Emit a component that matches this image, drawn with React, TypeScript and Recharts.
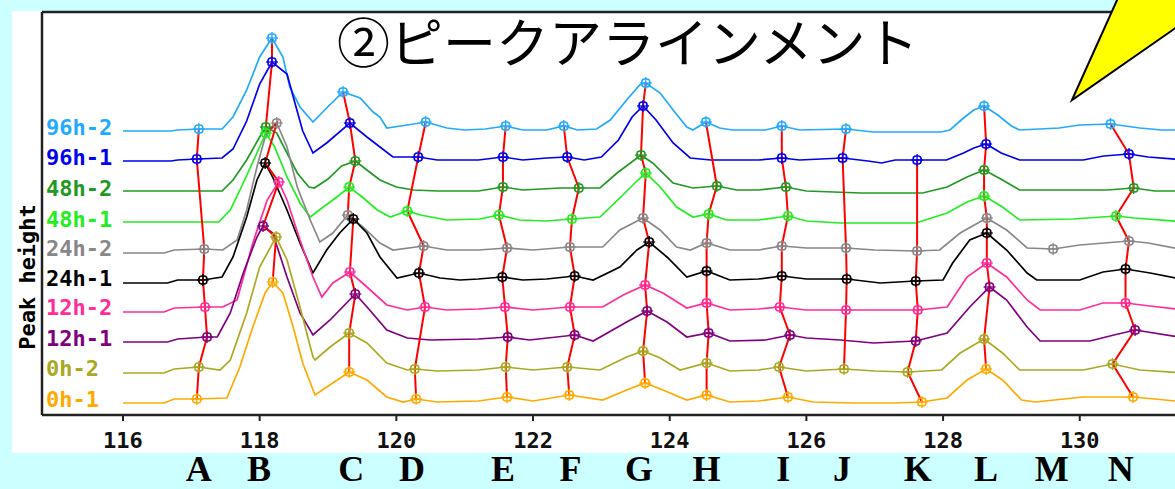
import { ComposedChart, Line, Scatter, XAxis, YAxis, ReferenceLine } from 'recharts';

const X_MIN = 114.815;
const X_MAX = 131.54;
const Y_MAX = 403;

const samples = ['96h-2', '96h-1', '48h-2', '48h-1', '24h-2', '24h-1', '12h-2', '12h-1', '0h-2', '0h-1'];
const sampleColors = ['#22aaff', '#0000ee', '#229922', '#22ee22', '#888888', '#000000', '#ff2d9a', '#800080', '#aaaa22', '#ffaa00'];
// vertical offset of each trace (same units as peak height)
const sampleOffsets = [285, 255, 224, 193, 164, 134, 105, 74, 44, 13];

// [retention, peak height]
const trace96h2 = [
  [116.0, -1], [116.7, -1], [116.8, 0], [117.11, 1], [117.45, 1], [117.61, 13], [117.81, 40], [118.0, 73], [118.18, 92],
  [118.34, 73], [118.44, 43], [118.59, 23], [118.78, 8], [118.98, 22], [119.22, 38], [119.47, 32], [119.66, 18], [119.76, 13],
  [119.86, 2], [120.16, 5], [120.43, 8], [120.74, 2], [121.0, 0], [121.3, 1], [121.6, 4], [121.85, 0], [122.2, 0], [122.45, 4],
  [122.65, 0], [122.93, 1], [123.13, 10], [123.37, 30], [123.56, 45], [123.65, 47], [123.86, 37], [124.05, 20], [124.25, 3],
  [124.34, 0], [124.53, 8], [124.73, 2], [124.92, 0], [125.4, 0], [125.64, 4], [125.9, 0], [126.58, 1], [126.98, -2], [127.97, -2],
  [128.1, 0], [128.3, 12], [128.45, 20], [128.6, 24], [128.8, 15], [129.0, 4], [129.12, 0], [129.7, 2], [130.0, 5], [130.45, 6],
  [130.88, 2], [131.2, 0], [131.54, 0],
];
const trace96h1 = [
  [116.0, -1], [116.7, -1], [116.8, 0], [117.08, 1], [117.45, 2], [117.61, 11], [117.81, 39], [118.0, 76], [118.18, 98],
  [118.4, 86], [118.52, 56], [118.63, 29], [118.78, 7], [118.98, 17], [119.32, 37], [119.57, 23], [119.76, 13], [119.95, 3],
  [120.32, 3], [120.6, 0], [121.2, 0], [121.56, 3], [121.85, 0], [122.2, 2], [122.5, 3], [122.75, 0], [123.0, 3], [123.25, 20],
  [123.45, 43], [123.61, 54], [123.8, 40], [124.05, 17], [124.3, 2], [124.6, 0], [125.3, 0], [125.64, 2], [125.9, 0], [126.53, 2],
  [126.9, -1], [127.1, -3], [127.3, 0], [127.62, 0], [128.05, 0], [128.3, 7], [128.45, 12], [128.63, 16], [128.85, 7], [129.12, 0],
  [130.05, 0], [130.35, 4], [130.72, 6], [131.0, 3], [131.54, 0],
];
const trace48h2 = [
  [116.0, 0], [117.45, 0], [117.61, 11], [117.81, 31], [118.0, 54], [118.09, 64], [118.25, 58], [118.4, 38], [118.55, 18],
  [118.72, 4], [118.8, 3], [119.0, 12], [119.2, 25], [119.4, 30], [119.55, 22], [119.76, 11], [120.0, 4], [120.25, 1], [120.6, 0],
  [121.2, 0], [121.56, 4], [121.85, 1], [122.4, 3], [122.67, 3], [122.98, 3], [123.23, 18], [123.58, 36], [123.75, 28], [124.05, 8],
  [124.34, 3], [124.69, 5], [124.98, 1], [125.3, 1], [125.7, 4], [126.0, 0], [126.8, -2], [127.7, -2], [128.06, 4], [128.35, 14],
  [128.6, 21], [128.87, 11], [129.12, 1], [130.4, 1], [130.79, 3], [131.1, 0], [131.54, 0],
];
const trace48h1 = [
  [116.0, 0], [117.4, 0], [117.57, 12], [117.76, 39], [117.96, 69], [118.09, 89], [118.22, 75], [118.4, 45], [118.59, 19],
  [118.74, 5], [118.93, 15], [119.13, 25], [119.31, 35], [119.5, 25], [119.72, 12], [119.91, 5], [120.16, 11], [120.35, 7],
  [120.74, 2], [121.22, 3], [121.5, 7], [121.8, 2], [122.2, 1], [122.57, 3], [122.98, 5], [123.27, 24], [123.52, 41], [123.65, 49],
  [123.86, 35], [124.1, 15], [124.34, 5], [124.57, 8], [124.83, 2], [125.3, 2], [125.73, 6], [126.0, 1], [126.5, -1], [127.6, -1],
  [128.06, 9], [128.35, 20], [128.6, 26], [128.87, 15], [129.12, 2], [129.9, 3], [130.53, 6], [130.8, 4], [131.54, 0],
];
const trace24h2 = [
  [116.0, -2], [116.6, -2], [116.75, 1], [117.19, 2], [117.46, 1], [117.67, 11], [117.81, 41], [117.96, 84], [118.08, 114],
  [118.25, 128], [118.4, 104], [118.55, 64], [118.74, 31], [118.88, 9], [119.07, 18], [119.29, 36], [119.51, 24], [119.76, 8],
  [119.95, 1], [120.4, 5], [120.74, 1], [121.2, 1], [121.62, 3], [122.0, 1], [122.54, 4], [123.02, 4], [123.27, 21], [123.61, 33],
  [123.86, 21], [124.1, 4], [124.3, 1], [124.54, 8], [124.88, 1], [125.3, 1], [125.64, 5], [126.0, 3], [126.58, 3], [127.0, 1],
  [127.62, 0], [127.95, 1], [128.25, 18], [128.64, 33], [128.93, 21], [129.23, 3], [129.61, 2], [130.0, 6], [130.72, 10],
  [131.0, 8], [131.54, 1],
];
const trace24h1 = [
  [116.0, -2], [116.65, -2], [116.8, 1], [117.17, 1], [117.45, 4], [117.61, 24], [117.81, 64], [117.96, 101], [118.08, 118],
  [118.19, 104], [118.4, 71], [118.59, 38], [118.78, 8], [118.98, 31], [119.17, 48], [119.37, 62], [119.57, 48], [119.76, 24],
  [120.01, 3], [120.33, 8], [120.64, 3], [120.93, 1], [121.2, 2], [121.55, 4], [121.85, 1], [122.2, 2], [122.61, 5], [122.88, 1],
  [123.27, 14], [123.52, 31], [123.7, 39], [123.96, 24], [124.25, 4], [124.54, 10], [124.88, 1], [125.3, 2], [125.64, 5], [126.0, 2],
  [126.59, 2], [127.08, -2], [127.6, 0], [128.0, 1], [128.14, 18], [128.39, 41], [128.64, 48], [128.93, 31], [129.23, 8],
  [129.37, 1], [130.0, 1], [130.34, 9], [130.67, 12], [131.03, 8], [131.54, 1],
];
const trace12h2 = [
  [116.0, -2], [116.6, -2], [116.75, 2], [117.2, 3], [117.46, 3], [117.67, 10], [117.9, 67], [118.11, 110], [118.28, 128],
  [118.4, 110], [118.59, 70], [118.78, 33], [118.91, 13], [119.07, 27], [119.32, 38], [119.57, 23], [119.86, 5], [120.16, 0],
  [120.42, 3], [120.74, 0], [121.2, 1], [121.59, 3], [122.0, 0], [122.54, 3], [123.02, 3], [123.32, 15], [123.64, 25], [123.9, 17],
  [124.25, 2], [124.54, 7], [124.88, 0], [125.3, 1], [125.61, 3], [126.0, 0], [126.58, 0], [127.63, 0], [128.06, 3], [128.35, 33],
  [128.64, 47], [128.93, 33], [129.23, 10], [129.42, 0], [130.0, 0], [130.34, 7], [130.67, 7], [131.03, 4], [131.54, 0],
];
const trace12h1 = [
  [116.0, -1], [116.65, -1], [116.8, 2], [117.23, 4], [117.38, 4], [117.57, 28], [117.76, 68], [117.96, 104], [118.05, 115],
  [118.19, 108], [118.4, 64], [118.59, 28], [118.78, 6], [119.03, 21], [119.4, 47], [119.61, 31], [119.86, 11], [120.16, 3],
  [120.5, 1], [121.2, 2], [121.63, 4], [121.95, 1], [122.61, 6], [122.88, 0], [123.37, 19], [123.67, 30], [123.96, 19], [124.25, 4],
  [124.57, 8], [124.88, 0], [125.4, 1], [125.76, 6], [126.0, 3], [126.5, 1], [126.98, -2], [127.6, 0], [128.06, 8], [128.39, 34],
  [128.68, 54], [128.93, 41], [129.23, 14], [129.42, 0], [130.15, 0], [130.5, 6], [130.81, 11], [131.54, 3],
];
const trace0h2 = [
  [116.0, -2], [116.6, -2], [116.75, 2], [117.11, 4], [117.42, 1], [117.57, 11], [117.81, 58], [118.0, 104], [118.24, 134],
  [118.4, 111], [118.59, 64], [118.78, 14], [118.81, 11], [119.03, 24], [119.31, 38], [119.57, 28], [119.86, 8], [120.16, 1],
  [120.27, 2], [120.6, 0], [121.2, 1], [121.6, 4], [122.0, 1], [122.5, 4], [122.98, 1], [123.37, 14], [123.61, 20], [123.86, 13],
  [124.15, 1], [124.54, 8], [124.88, 0], [125.3, 1], [125.6, 4], [126.0, 0], [126.55, 2], [127.0, 0], [127.48, -1], [127.98, 1],
  [128.25, 18], [128.6, 32], [128.87, 18], [129.12, 1], [130.05, 1], [130.48, 7], [130.88, 1], [131.54, -2],
];
const trace0h1 = [
  [116.0, -1], [116.6, -1], [116.75, 3], [117.08, 3], [117.52, 4], [117.71, 35], [117.9, 75], [118.08, 109], [118.19, 120],
  [118.34, 109], [118.49, 75], [118.63, 39], [118.81, 7], [119.07, 19], [119.31, 30], [119.57, 22], [119.86, 5], [120.1, 0],
  [120.29, 3], [120.6, 0], [121.2, 1], [121.62, 5], [122.0, 1], [122.53, 7], [123.02, 2], [123.37, 12], [123.64, 19], [123.9, 12],
  [124.25, 2], [124.54, 7], [124.88, 0], [125.3, 1], [125.73, 5], [126.1, 0], [126.68, -1], [127.3, -1], [127.69, 0], [128.06, 4],
  [128.35, 22], [128.63, 33], [128.87, 22], [129.15, 2], [129.35, 0], [130.05, 5], [130.78, 5], [131.1, 3], [131.54, 0],
];
const traces = [trace96h2, trace96h1, trace48h2, trace48h1, trace24h2, trace24h1, trace12h2, trace12h1, trace0h2, trace0h1];

// aligned peaks: one entry per sample (top to bottom), null = not detected
const peakA = [[117.11, 1], [117.08, 1], null, null, [117.19, 2], [117.17, 1], [117.2, 3], [117.23, 4], [117.11, 4], [117.08, 3]];
const peakB = [[118.18, 92], [118.18, 98], [118.09, 64], [118.09, 89], [118.25, 128], [118.08, 118], [118.28, 128], [118.05, 115], [118.24, 134], [118.19, 120]];
const peakC = [[119.22, 38], [119.32, 37], [119.4, 30], [119.31, 35], [119.29, 36], [119.37, 62], [119.32, 38], [119.4, 47], [119.31, 38], [119.31, 30]];
const peakD = [[120.43, 8], [120.32, 3], null, [120.16, 11], [120.4, 5], [120.33, 8], [120.42, 3], null, [120.27, 2], [120.29, 3]];
const peakE = [[121.6, 4], [121.56, 3], [121.56, 4], [121.5, 7], [121.62, 3], [121.55, 4], [121.59, 3], [121.63, 4], [121.6, 4], [121.62, 5]];
const peakF = [[122.45, 4], [122.5, 3], [122.67, 3], [122.57, 3], [122.54, 4], [122.61, 5], [122.54, 3], [122.61, 6], [122.5, 4], [122.53, 7]];
const peakG = [[123.65, 47], [123.61, 54], [123.58, 36], [123.65, 49], [123.61, 33], [123.7, 39], [123.64, 25], [123.67, 30], [123.61, 20], [123.64, 19]];
const peakH = [[124.53, 8], null, [124.69, 5], [124.57, 8], [124.54, 8], [124.54, 10], [124.54, 7], [124.57, 8], [124.54, 8], [124.54, 7]];
const peakI = [[125.64, 4], [125.64, 2], [125.7, 4], [125.73, 6], [125.64, 5], [125.64, 5], [125.61, 3], [125.76, 6], [125.6, 4], [125.73, 5]];
const peakJ = [[126.58, 1], [126.53, 2], null, null, [126.58, 3], [126.59, 2], [126.58, 0], null, [126.55, 2], null];
const peakK = [null, [127.62, 0], null, null, [127.62, 0], [127.6, 0], [127.63, 0], [127.6, 0], [127.48, -1], [127.69, 0]];
const peakL = [[128.6, 24], [128.63, 16], [128.6, 21], [128.6, 26], [128.64, 33], [128.64, 48], [128.64, 47], [128.68, 54], [128.6, 32], [128.63, 33]];
const peakM = [null, null, null, null, [129.61, 2], null, null, null, null, null];
const peakN = [[130.45, 6], [130.72, 6], [130.79, 3], [130.53, 6], [130.72, 10], [130.67, 12], [130.67, 7], [130.81, 11], [130.48, 7], [130.78, 5]];
const peakTable = [peakA, peakB, peakC, peakD, peakE, peakF, peakG, peakH, peakI, peakJ, peakK, peakL, peakM, peakN];

const peakLetters = ['A', 'B', 'C', 'D', 'E', 'F', 'G', 'H', 'I', 'J', 'K', 'L', 'M', 'N'];
const letterPositions = [117.11, 117.99, 119.34, 120.23, 121.56, 122.55, 123.55, 124.54, 125.66, 126.52, 127.63, 128.63, 129.59, 130.6];
const xTicks = [116, 118, 120, 122, 124, 126, 128, 130];

const title = '②ピークアラインメント';
const MONO = '"DejaVu Sans Mono", monospace';

const labelValues = sampleOffsets.map((o) => o + 3);

function SampleLabel(props: any) {
  const { y, payload } = props;
  const i = labelValues.indexOf(payload.value);
  if (i < 0) return null;
  return (
    <text x={46} y={y} dominantBaseline="central" fill={sampleColors[i]} fontFamily={MONO} fontWeight="bold" fontSize={22}>
      {samples[i]}
    </text>
  );
}

function LetterTick(props: any) {
  const { x, y, payload } = props;
  const i = letterPositions.indexOf(payload.value);
  return (
    <text x={x} y={y + 28} textAnchor="middle" fill="#000" fontFamily='"Liberation Serif", serif' fontWeight="bold" fontSize={36}>
      {peakLetters[i]}
    </text>
  );
}

function PeakMarker(props: any) {
  const { cx, cy, payload } = props;
  if (cx == null || cy == null) return null;
  const c = payload.color;
  return (
    <g>
      <rect x={cx - 4} y={cy - 4} width={8} height={8} rx={3} fill="none" stroke={c} strokeWidth={1.6} />
      <line x1={cx - 6} x2={cx + 6} y1={cy} y2={cy} stroke={c} strokeWidth={1.3} />
      <line x1={cx} x2={cx} y1={cy - 6} y2={cy + 6} stroke={c} strokeWidth={1.3} />
    </g>
  );
}

export default function App() {
  const traceData = traces.map((t, i) => t.map(([x, h]) => ({ x, y: sampleOffsets[i] + h })));
  const peakData = peakTable.map((col) =>
    col
      .map((pt, i) => (pt ? { x: pt[0], y: sampleOffsets[i] + pt[1], color: sampleColors[i] } : null))
      .filter((d) => d !== null)
  );

  return (
    <div style={{ position: 'fixed', left: 0, top: 0, width: 1175, height: 489, overflow: 'hidden', background: '#ccffff' }}>
      <div style={{ position: 'absolute', left: 12, top: 11, width: 1163, height: 442, background: '#ffffff' }} />
      <div style={{ position: 'absolute', left: 0, top: 0 }}>
        <ComposedChart width={1190} height={489} margin={{ top: 12, right: 5, bottom: 0, left: 0 }}>
          <XAxis
            type="number"
            dataKey="x"
            domain={[X_MIN, X_MAX]}
            allowDataOverflow
            ticks={xTicks}
            interval={0}
            height={38}
            tickSize={6}
            tickMargin={11}
            axisLine={{ stroke: '#222', strokeWidth: 2.5 }}
            tickLine={{ stroke: '#222', strokeWidth: 2 }}
            tick={{ fill: '#111', fontFamily: MONO, fontWeight: 'bold', fontSize: 22 }}
          />
          <XAxis
            xAxisId="letters"
            type="number"
            dataKey="x"
            domain={[X_MIN, X_MAX]}
            allowDataOverflow
            ticks={letterPositions}
            interval={0}
            height={36}
            tickSize={0}
            tickMargin={0}
            axisLine={false}
            tickLine={false}
            tick={<LetterTick />}
          />
          <YAxis
            type="number"
            dataKey="y"
            domain={[0, Y_MAX]}
            allowDataOverflow
            width={42}
            ticks={labelValues}
            interval={0}
            tickLine={false}
            axisLine={{ stroke: '#222', strokeWidth: 2.5 }}
            tick={<SampleLabel />}
          />
          <ReferenceLine y={Y_MAX} stroke="#222" strokeWidth={2.5} />
          {traceData.map((d, i) => (
            <Line
              key={samples[i]}
              data={d}
              dataKey="y"
              type="linear"
              stroke={sampleColors[i]}
              strokeWidth={1.7}
              dot={false}
              activeDot={false}
              isAnimationActive={false}
            />
          ))}
          {peakData.map((d, p) => (
            <Scatter
              key={peakLetters[p]}
              data={d}
              line={{ stroke: '#ff0000', strokeWidth: 2 }}
              shape={(props: any) => <PeakMarker {...props} />}
              isAnimationActive={false}
            />
          ))}
        </ComposedChart>
      </div>
      <svg width={1175} height={489} style={{ position: 'absolute', left: 0, top: 0, pointerEvents: 'none' }}>
        <text x={337} y={63} fontFamily='"Noto Sans CJK JP", sans-serif' fontSize={53} fill="#000">
          {title}
        </text>
        <text
          x={27}
          y={277}
          transform="rotate(-90 27 277)"
          textAnchor="middle"
          dominantBaseline="central"
          fontFamily={MONO}
          fontWeight="bold"
          fontSize={22}
          fill="#000"
        >
          Peak height
        </text>
        <polygon points="1072,100 1118,-2 1177,-2 1177,27" fill="#ffff00" stroke="#000" strokeWidth={2} />
      </svg>
    </div>
  );
}
